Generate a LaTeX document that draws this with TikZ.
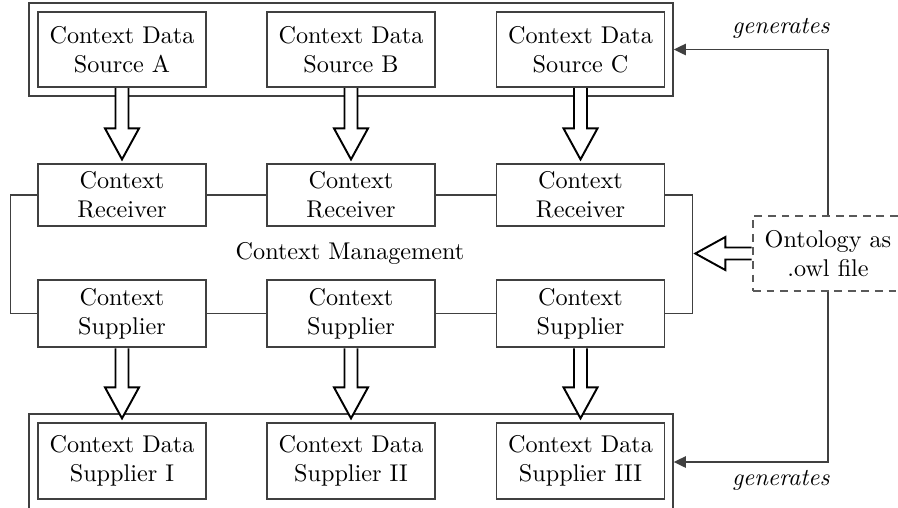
\documentclass[tikz,border=0pt]{standalone}
\usetikzlibrary{calc,arrows.meta}
\newcommand{\fatdown}[2]{%
  \filldraw[hollow] ($(#1)+(-6.5,0.6)$) -- ($(#2)+(-6.5,-31)$) -- ($(#2)+(-17,-31)$) -- (#2)
    -- ($(#2)+(17,-31)$) -- ($(#2)+(6.5,-31)$) -- ($(#1)+(6.5,0.6)$);}
\newcommand{\fatleft}[2]{%
  \filldraw[hollow] ($(#1)+(-0.6,-6)$) -- ($(#2)+(30,-6)$) -- ($(#2)+(30,-16.5)$) -- (#2)
    -- ($(#2)+(30,16.5)$) -- ($(#2)+(30,6)$) -- ($(#1)+(-0.6,6)$);}
\begin{document}
\begin{tikzpicture}[x=0.413pt,y=-0.413pt,
  box/.style={draw=black!75, line width=0.5pt, inner sep=0pt, align=center,
    minimum width=69.4pt},
  srcbox/.style={box, minimum height=31pt},
  recbox/.style={box, minimum height=25.6pt},
  supbox/.style={box, minimum height=27.7pt},
  dsbox/.style={box, minimum height=31.4pt},
  outerbox/.style={draw=black!75, line width=0.5pt, inner sep=0pt, minimum width=266pt},
  ontobox/.style={draw=black!65, dashed, dash pattern=on 3.2pt off 2.4pt, line width=0.5pt,
    inner sep=0pt, align=center, minimum width=62pt, minimum height=31pt},
  link/.style={draw=black!75, line width=0.5pt},
  hollow/.style={draw=black, fill=white, line width=0.8pt, line join=miter},
  gen/.style={draw=black!75, line width=0.8pt, -{Triangle[length=5pt,width=4.6pt]}},
  lbl/.style={font=\itshape}]
\useasboundingbox (0,0) rectangle (898,507);
\clip (0,0) rectangle (898,507);
% outer boxes
\node[outerbox, minimum height=38.4pt] (topbox) at (351,49.5) {};
\node[outerbox, minimum height=39.6pt] (botbox) at (351,462) {};
% sources
\node[srcbox] (srcA) at (122,49.5) {Context Data\\Source A};
\node[srcbox] (srcB) at (351,49.5) {Context Data\\Source B};
\node[srcbox] (srcC) at (580.5,49.5) {Context Data\\Source C};
% receivers
\node[recbox] (recA) at (122,195) {Context\\Receiver};
\node[recbox] (recB) at (351,195) {Context\\Receiver};
\node[recbox] (recC) at (580.5,195) {Context\\Receiver};
% suppliers
\node[supbox] (supA) at (122,313.5) {Context\\Supplier};
\node[supbox] (supB) at (351,313.5) {Context\\Supplier};
\node[supbox] (supC) at (580.5,313.5) {Context\\Supplier};
% data suppliers
\node[dsbox] (dsA) at (122,461) {Context Data\\Supplier I};
\node[dsbox] (dsB) at (351,461) {Context Data\\Supplier II};
\node[dsbox] (dsC) at (580.5,461) {Context Data\\Supplier III};
% management label
\node (mgmt) at (350,253) {Context Management};
% ontology
\node[ontobox] (onto) at (828,253.5) {Ontology as\\.owl file};
% links
\draw[link] (recA.east) -- (recB.west);
\draw[link] (recB.east) -- (recC.west);
\draw[link] (supA.east) -- (supB.west);
\draw[link] (supB.east) -- (supC.west);
\draw[link] (recA.west) -- ++(-27,0) |- (supA.west);
\draw[link] (recC.east) -- ++(27,0) |- (supC.east);
% hollow arrows
\coordinate (tA) at ($(recA.north)+(0,-4)$);
\coordinate (tB) at ($(recB.north)+(0,-4)$);
\coordinate (tC) at ($(recC.north)+(0,-4)$);
\coordinate (bA) at ($(dsA.north)+(0,-4)$);
\coordinate (bB) at ($(dsB.north)+(0,-4)$);
\coordinate (bC) at ($(dsC.north)+(0,-4)$);
\fatdown{srcA.south}{tA}
\fatdown{srcB.south}{tB}
\fatdown{srcC.south}{tC}
\fatdown{supA.south}{bA}
\fatdown{supB.south}{bB}
\fatdown{supC.south}{bC}
\coordinate (oT) at ($(onto.west)+(-57,0)$);
\fatleft{onto.west}{oT}
% generates
\draw[gen] (onto.north) |- node[lbl, pos=0.5, above left, inner sep=3pt, xshift=4pt, yshift=1pt] {generates} (topbox.east);
\draw[gen] (onto.south) |- node[lbl, pos=0.5, below left, inner sep=3pt, xshift=4pt] {generates} (botbox.east);
\end{tikzpicture}
\end{document}
